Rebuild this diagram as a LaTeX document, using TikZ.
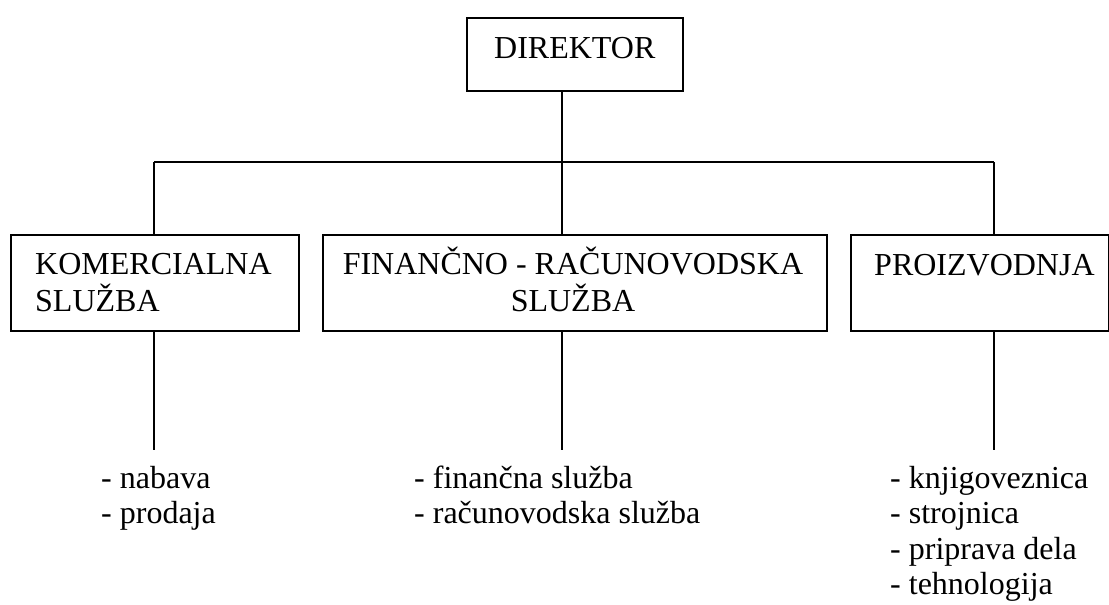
\documentclass[tikz,border=0pt]{standalone}
\usepackage{fontspec}
\setmainfont{Liberation Serif}
\begin{document}
\begin{tikzpicture}[x=1pt,y=-1pt,
  box/.style={draw=black, line width=1.6pt, rectangle, inner sep=0pt, anchor=north west},
  txt/.style={inner sep=0pt, font=\fontsize{32}{37}\selectfont},
  conn/.style={draw=black, line width=1.6pt}]
\fill[white] (0,0) rectangle (1109,605);
\useasboundingbox (0,0) rectangle (1109,605);
% boxes
\node[box, minimum width=216pt, minimum height=73pt] (dir) at (466,17) {};
\node[box, minimum width=288pt, minimum height=96pt] (kom) at (10,234) {};
\node[box, minimum width=504pt, minimum height=96pt] (fin) at (322,234) {};
\node[box, minimum width=258pt, minimum height=96pt] (pro) at (850,234) {};
% box texts
\node[txt, anchor=base west] (dirt) at (494,58) {DIREKTOR};
\node[txt, anchor=base west] (komt1) at (35,274) {KOMERCIALNA};
\node[txt, anchor=base west] (komt2) at (35,311) {SLUŽBA};
\node[txt, anchor=base] (fint1) at (573,274) {FINANČNO - RAČUNOVODSKA};
\node[txt, anchor=base] (fint2) at (573,311) {SLUŽBA};
\node[txt, anchor=base west] (prot) at (874,275) {PROIZVODNJA};
% connectors
\coordinate (busM) at (562,162);
\coordinate (busL) at (154,162);
\coordinate (busR) at (994,162);
\draw[conn] (dir.south -| busM) -- (busM);
\draw[conn] (busL) -- (busR);
\draw[conn] (busL) -- (busL |- kom.north);
\draw[conn] (busM) -- (busM |- fin.north);
\draw[conn] (busR) -- (busR |- pro.north);
\coordinate (endL) at (154,450);
\coordinate (endM) at (562,450);
\coordinate (endR) at (994,450);
\draw[conn] (kom.south -| endL) -- (endL);
\draw[conn] (fin.south -| endM) -- (endM);
\draw[conn] (pro.south -| endR) -- (endR);
% lists
\node[txt, anchor=base west] (l1) at (101,488) {- nabava};
\node[txt, anchor=base west] (l2) at (101,523.5) {- prodaja};
\node[txt, anchor=base west] (m1) at (414,488) {- finančna služba};
\node[txt, anchor=base west] (m2) at (414,523.5) {- računovodska služba};
\node[txt, anchor=base west] (r1) at (890,488) {- knjigoveznica};
\node[txt, anchor=base west] (r2) at (890,523.5) {- strojnica};
\node[txt, anchor=base west] (r3) at (890,559) {- priprava dela};
\node[txt, anchor=base west] (r4) at (890,594.5) {- tehnologija};
\end{tikzpicture}
\end{document}
